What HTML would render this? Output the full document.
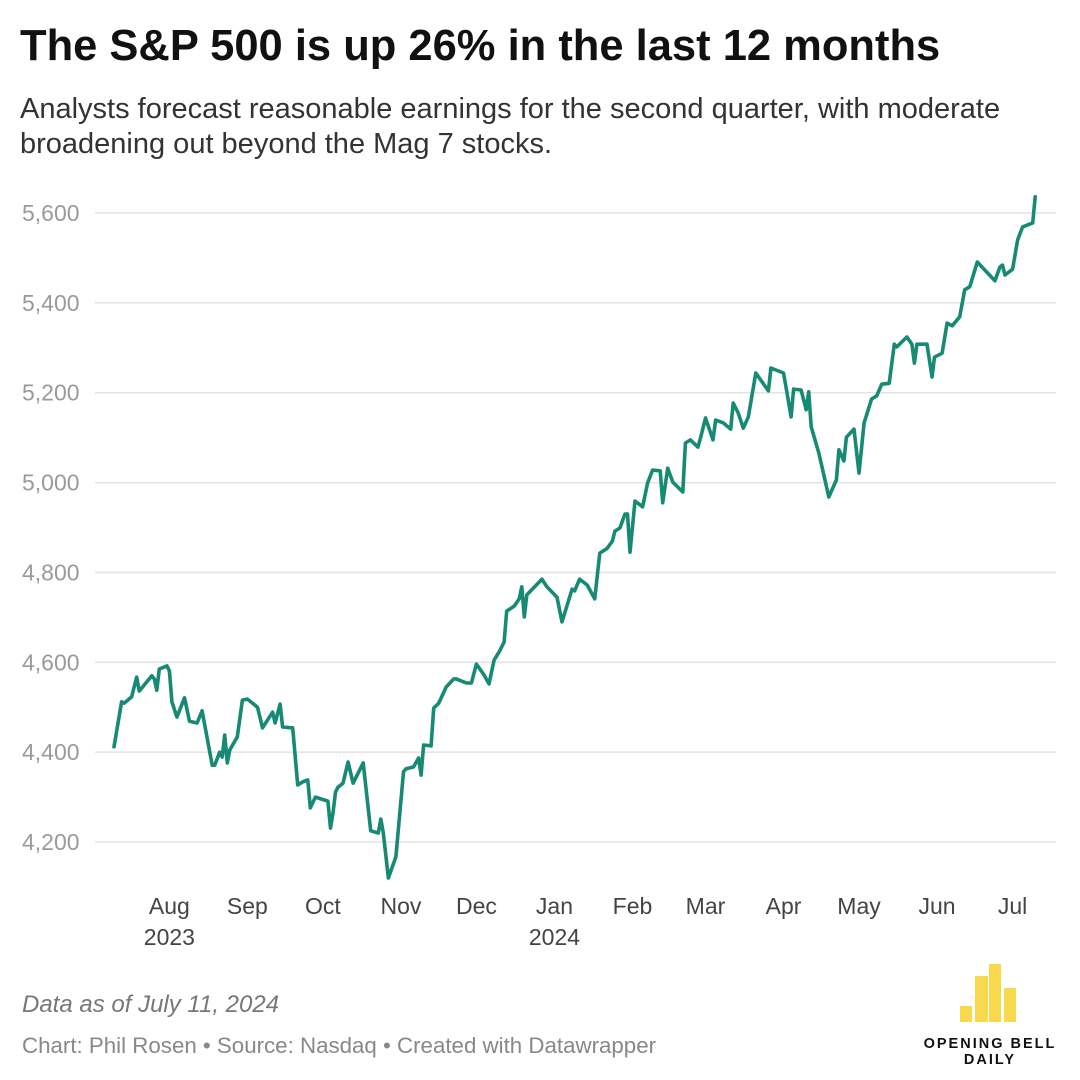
<!DOCTYPE html>
<html><head><meta charset="utf-8"><style>
body{margin:0;width:1080px;height:1080px;background:#fff;font-family:"Liberation Sans",sans-serif;overflow:hidden;position:relative}
.t{position:absolute;white-space:nowrap}
</style></head><body>
<div class="t" style="left:20px;top:22px;font-size:43.5px;font-weight:bold;color:#111">The S&amp;P 500 is up 26% in the last 12 months</div>
<div class="t" style="left:20px;top:92px;font-size:29px;line-height:35px;color:#333">Analysts forecast reasonable earnings for the second quarter, with moderate<br>broadening out beyond the Mag 7 stocks.</div>
<svg id="chart" width="1080" height="960" style="position:absolute;left:0;top:0"></svg>
<div class="t" style="left:22px;top:991px;font-size:24px;font-style:italic;color:#777">Data as of July 11, 2024</div>
<div class="t" style="left:22px;top:1033px;font-size:22.3px;color:#888">Chart: Phil Rosen • Source: Nasdaq • Created with Datawrapper</div>
<svg width="150" height="110" style="position:absolute;left:915px;top:960px">
<rect x="45" y="46" width="12" height="16" fill="#f8d94e"/>
<rect x="60" y="16" width="13" height="46" fill="#f8d94e"/>
<rect x="74" y="4" width="12" height="58" fill="#f8d94e"/>
<rect x="89" y="28" width="12" height="34" fill="#f8d94e"/>
<text x="75" y="88" text-anchor="middle" font-size="14.5" font-weight="bold" letter-spacing="2" fill="#111">OPENING BELL</text>
<text x="75" y="104" text-anchor="middle" font-size="14.5" font-weight="bold" letter-spacing="2" fill="#111">DAILY</text>
</svg>
<script>
const days=[0,3,4,7,9,10,15,16,17,18,21,22,23,25,28,30,33,35,39,40,42,43,44,45,46,49,51,53,57,59,63,64,66,67,71,73,75,77,78,80,85,86,87,88,89,91,93,95,99,102,105,106,107,109,112,115,116,119,121,122,123,126,127,129,132,135,136,140,142,144,147,149,151,153,155,156,159,161,162,163,164,170,172,176,178,182,183,185,188,191,193,196,198,199,201,203,204,205,207,210,212,214,217,218,220,222,226,227,229,232,233,235,238,239,242,245,246,248,250,252,255,260,261,266,267,269,270,273,275,276,277,280,282,284,287,288,290,291,294,296,298,301,303,305,308,310,311,315,317,318,319,323,325,326,329,331,333,336,338,340,343,350,352,353,354,357,359,361,365,366];
const values=[4412,4512,4509,4523,4567,4536,4570,4563,4538,4585,4592,4581,4512,4478,4521,4469,4465,4492,4371,4371,4400,4389,4438,4376,4405,4434,4516,4518,4500,4454,4489,4465,4507,4456,4454,4327,4334,4338,4276,4300,4291,4231,4265,4311,4322,4331,4378,4331,4376,4225,4220,4251,4220,4120,4167,4356,4363,4367,4387,4349,4416,4414,4498,4509,4545,4563,4563,4554,4554,4596,4572,4552,4605,4623,4645,4714,4725,4741,4768,4701,4750,4785,4768,4745,4690,4763,4759,4785,4772,4741,4843,4854,4870,4892,4899,4930,4930,4845,4959,4946,4999,5028,5026,4955,5032,5001,4979,5088,5095,5079,5099,5144,5095,5139,5133,5119,5177,5155,5121,5146,5244,5204,5255,5244,5213,5146,5208,5206,5162,5202,5124,5066,5017,4968,5006,5073,5048,5101,5119,5021,5133,5186,5193,5219,5221,5308,5302,5324,5308,5266,5308,5308,5235,5279,5288,5355,5349,5369,5429,5436,5491,5449,5480,5484,5462,5475,5540,5569,5578,5636];
const yTicks=[4200,4400,4600,4800,5000,5200,5400,5600];
const monthLabels=["Aug","Sep","Oct","Nov","Dec","Jan","Feb","Mar","Apr","May","Jun","Jul"];
const yearLabels=["2023","","","","","2024","","","","","",""];
const monthDays=[22,53,83,114,144,175,206,235,266,296,327,357];
const svg=document.getElementById('chart');
const NS='http://www.w3.org/2000/svg';
const x=d=>114+d*2.517;
const y=v=>213+(5600-v)*0.4493;
function mk(tag,attrs){const e=document.createElementNS(NS,tag);for(const k in attrs)e.setAttribute(k,attrs[k]);svg.appendChild(e);return e;}
yTicks.forEach(v=>{
  const g=mk('line',{x1:95,x2:1056,y1:y(v),y2:y(v),stroke:'#e3e3e3','stroke-width':1.5});
  
  
  const t=mk('text',{x:22,y:y(v)+8,'font-size':23,fill:'#9a9a9a','font-family':'Liberation Sans'});
  t.textContent=v.toLocaleString('en-US');
  
  
});
monthDays.forEach((d,i)=>{
  const t=mk('text',{x:x(d),y:914,'text-anchor':'middle','font-size':23,fill:'#444','font-family':'Liberation Sans'});
  t.textContent=monthLabels[i];
  
  
  if(yearLabels[i]){
    const t2=mk('text',{x:x(d),y:945,'text-anchor':'middle','font-size':23,fill:'#444','font-family':'Liberation Sans'});
    t2.textContent=yearLabels[i];
    
    
  }
});
const p=mk('path',{d:days.map((d,i)=>(i?'L':'M')+x(d).toFixed(1)+','+y(values[i]).toFixed(1)).join(''),fill:'none',stroke:'#178a73','stroke-width':3.6,'stroke-linejoin':'round','stroke-linecap':'round'});


</script>
</body></html>
